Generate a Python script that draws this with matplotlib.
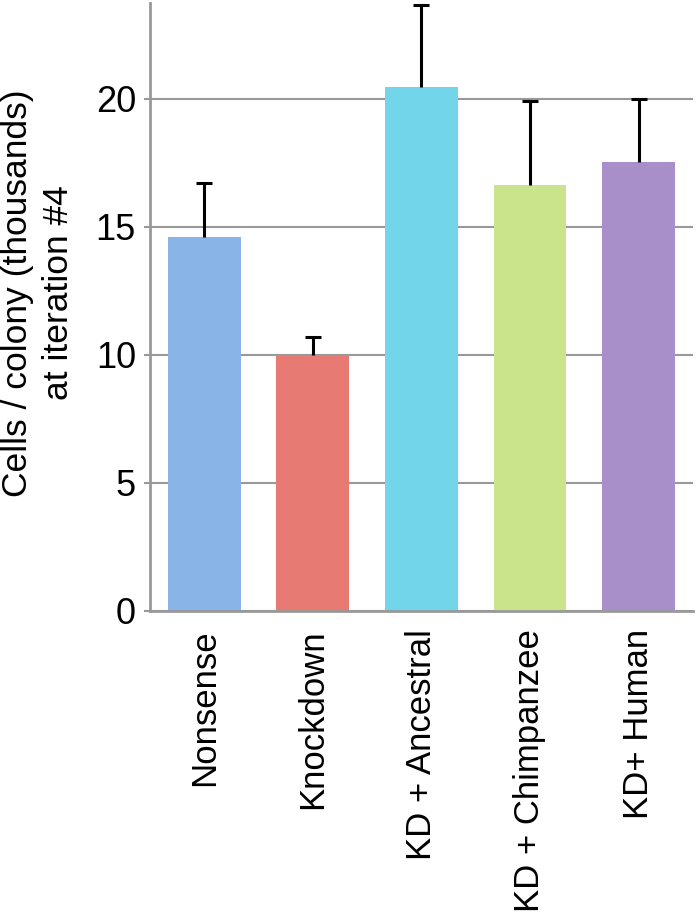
import matplotlib.pyplot as plt
import numpy as np

plt.rcParams['font.family'] = ['Liberation Sans', 'DejaVu Sans']

groups = ["Nonsense", "Knockdown", "KD + Ancestral", "KD + Chimpanzee", "KD+ Human"]
cells = [14.6, 10.0, 20.45, 16.65, 17.55]
err = [2.1, 0.7, 3.2, 3.25, 2.45]
colors = ["#88b4e8", "#e87a74", "#72d5ea", "#c9e48a", "#a98fc9"]

fig = plt.figure(figsize=(6.97, 9.16), dpi=100)
ax = fig.add_axes([0.215, 0.333, 0.779, 0.664])

x = np.arange(len(groups))
ax.bar(x, cells, width=0.67, color=colors, zorder=2)
# upper error only, no cap at the bottom
eb = ax.errorbar(x, cells, yerr=[np.zeros(len(err)), err], fmt="none",
                 ecolor="black", elinewidth=2.2, capsize=5.5, capthick=2.2, zorder=3)
eb[1][0].set_visible(False)

ax.set_xlim(-0.5, 4.5)
ax.set_ylim(0, 23.75)
ax.set_yticks([0, 5, 10, 15, 20])
ax.yaxis.grid(True, color="#999999", linewidth=1.5, zorder=1)
ax.set_axisbelow(True)

for s in ["top", "right"]:
    ax.spines[s].set_visible(False)
for s in ["left", "bottom"]:
    ax.spines[s].set_color("#999999")
    ax.spines[s].set_linewidth(2)

ax.tick_params(axis="y", length=4, width=1.5, color="#999999", labelsize=26, pad=6)
ax.tick_params(axis="x", length=0, labelsize=25, pad=13)
ax.set_xticks(x)
ax.set_xticklabels(groups, rotation=90)
ax.set_ylabel("Cells / colony (thousands)\nat iteration #4", fontsize=25.5, linespacing=1.3)
ax.yaxis.set_label_coords(-0.138, 0.523)

fig.savefig("out.png", dpi=100)
